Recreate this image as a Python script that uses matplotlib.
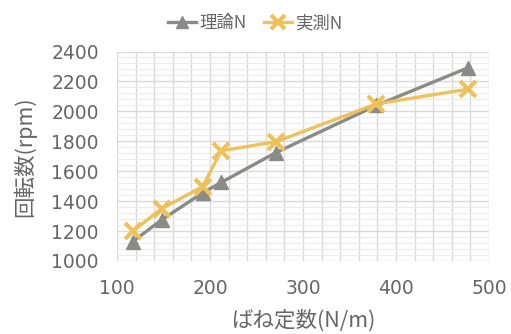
import matplotlib
matplotlib.use("Agg")
import matplotlib.pyplot as plt
from matplotlib.ticker import MultipleLocator

plt.rcParams['font.family'] = ['Noto Sans CJK JP', 'DejaVu Sans']

k = [117, 148, 192, 212, 271, 379, 477]
theory_n = [1130, 1275, 1455, 1525, 1725, 2040, 2290]
measured_n = [1200, 1350, 1497, 1737, 1797, 2050, 2148]
series_labels = ['理論N', '実測N']
xlabel = 'ばね定数(N/m)'
ylabel = '回転数(rpm)'

fig = plt.figure(figsize=(5.11, 3.34), dpi=100)
ax = fig.add_axes([117/511, 1 - 261/334, (489-117)/511, (261-51.5)/334])

gray = '#8a8a87'
gold = '#eec25a'
txt = '#666666'
ax.plot(k, theory_n, color=gray, lw=2.4, marker='^', ms=10, mfc=gray, mec=gray,
        label=series_labels[0], zorder=3)
ax.plot(k, measured_n, color=gold, lw=2.4, marker='x', ms=12, mew=3, mec=gold,
        label=series_labels[1], zorder=4)

ax.set_xlim(100, 500)
ax.set_ylim(1000, 2400)
ax.xaxis.set_major_locator(MultipleLocator(100))
ax.xaxis.set_minor_locator(MultipleLocator(20))
ax.yaxis.set_major_locator(MultipleLocator(200))
ax.yaxis.set_minor_locator(MultipleLocator(40))
ax.grid(which='major', color='#d9d9d9', lw=1.0)
ax.grid(which='minor', axis='x', color='#d9d9d9', lw=1.0)
ax.grid(which='minor', axis='y', color='#ececec', lw=0.8)
ax.set_axisbelow(True)
for s in ax.spines.values():
    s.set_visible(False)
ax.tick_params(which='both', length=0, labelcolor=txt)
ax.tick_params(axis='y', pad=13)
ax.tick_params(axis='x', pad=13)
for lab in ax.get_xticklabels() + ax.get_yticklabels():
    lab.set_family(['DejaVu Sans'])
    lab.set_fontsize(13.5)

ax.set_xlabel(xlabel, fontsize=15.5, color=txt, labelpad=8)
ax.set_ylabel(ylabel, fontsize=15.5, color=txt, labelpad=11)

fig.legend(loc='upper center', bbox_to_anchor=(0.5, 1.005), ncol=2, frameon=False,
           fontsize=12.5, labelcolor=txt, handlelength=1.6, handletextpad=0.2,
           columnspacing=1.0, markerscale=0.8)

fig.savefig('out.png', dpi=100)
